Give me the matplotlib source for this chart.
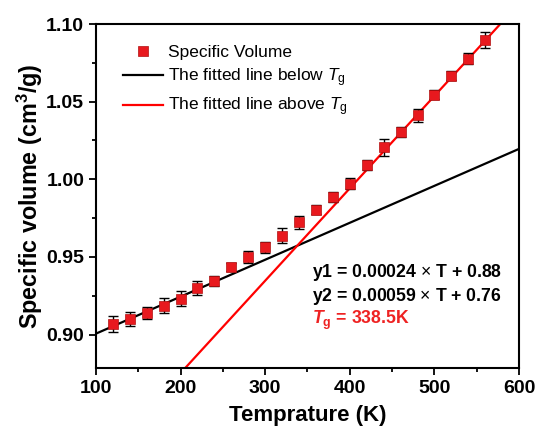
import numpy as np
import matplotlib.pyplot as plt
from matplotlib.ticker import MultipleLocator

plt.rcParams['font.family'] = ['Liberation Sans', 'DejaVu Sans']
plt.rcParams['mathtext.fontset'] = 'custom'
plt.rcParams['mathtext.rm'] = 'Liberation Sans'
plt.rcParams['mathtext.it'] = 'Liberation Sans:italic'
plt.rcParams['mathtext.bf'] = 'Liberation Sans:bold'
plt.rcParams['mathtext.bfit'] = 'Liberation Sans:bold:italic'

# measured specific volume
temp = [120, 140, 160, 180, 200, 220, 240, 260, 280, 300, 320, 340,
        360, 380, 400, 420, 440, 460, 480, 500, 520, 540, 560]
vol = [0.9069, 0.9101, 0.9140, 0.9187, 0.9232, 0.9298, 0.9346, 0.9433,
       0.9500, 0.9562, 0.9637, 0.9723, 0.9804, 0.9886, 0.9972, 1.0092,
       1.0205, 1.0304, 1.0411, 1.0546, 1.0667, 1.0776, 1.0898]
err = [0.005, 0.0045, 0.004, 0.005, 0.005, 0.0045, 0.003, 0.0025,
       0.004, 0.0035, 0.005, 0.004, 0.003, 0.003, 0.0035, 0.0035,
       0.0055, 0.003, 0.004, 0.003, 0.003, 0.0035, 0.005]

# fits (unrounded, the labels show the rounded ones)
slope1, icpt1 = 0.000238, 0.8768
slope2, icpt2 = 0.000595, 0.7562

f, ax = plt.subplots(figsize=(5.39, 4.37), dpi=100)
f.subplots_adjust(left=0.178, right=0.963, top=0.945, bottom=0.158)

T = np.array([100, 600])
ax.plot(T, slope1*T + icpt1, color='k', lw=1.6, label=r'The fitted line below $T_\mathrm{g}$')
ax.plot(T, slope2*T + icpt2, color='#ff0000', lw=1.6, label=r'The fitted line above $T_\mathrm{g}$')
ax.errorbar(temp, vol, yerr=err, fmt='none', ecolor='k', elinewidth=1, capsize=3.5, capthick=1, zorder=3)
ax.plot(temp, vol, 's', color='#e8191e', mec='#b01010', mew=0.5, ms=6.5, ls='none',
        label='Specific Volume', zorder=4)

ax.set_xlim(100, 600)
ax.set_ylim(0.8785, 1.10)
ax.xaxis.set_major_locator(MultipleLocator(100))
ax.xaxis.set_minor_locator(MultipleLocator(50))
ax.yaxis.set_major_locator(MultipleLocator(0.05))
ax.yaxis.set_minor_locator(MultipleLocator(0.025))
ax.yaxis.set_major_formatter(plt.FormatStrFormatter('%.2f'))
ax.tick_params(which='major', direction='out', length=5, width=1.3, labelsize=14)
ax.tick_params(which='minor', direction='out', length=3, width=1.3)
for lab in ax.get_xticklabels() + ax.get_yticklabels():
    lab.set_fontweight('bold')
for s in ax.spines.values():
    s.set_linewidth(1.5)

ax.set_xlabel('Temprature (K)', fontsize=16, fontweight='bold', labelpad=6)
ax.set_ylabel(r'Specific volume (cm$^\mathbf{3}$/g)', fontsize=16.8, fontweight='bold', labelpad=1)

h, l = ax.get_legend_handles_labels()
ax.legend([h[2], h[0], h[1]], [l[2], l[0], l[1]], loc='upper left', frameon=False,
          fontsize=12.5, handlelength=2.3, handletextpad=0.3, labelspacing=0.38,
          bbox_to_anchor=(0.027, 0.985))

ax.text(0.51, 0.265, r'y1 = 0.00024 $\times$ T + 0.88', transform=ax.transAxes,
        fontsize=12.7, fontweight='bold', va='baseline')
ax.text(0.51, 0.196, r'y2 = 0.00059 $\times$ T + 0.76', transform=ax.transAxes,
        fontsize=12.7, fontweight='bold', va='baseline')
ax.text(0.51, 0.128, r'$\mathbfit{T}_\mathbf{g}$ = 338.5K', transform=ax.transAxes,
        fontsize=12.7, fontweight='bold', va='baseline', color='#ee2222')

f.savefig('out.png', dpi=100)
